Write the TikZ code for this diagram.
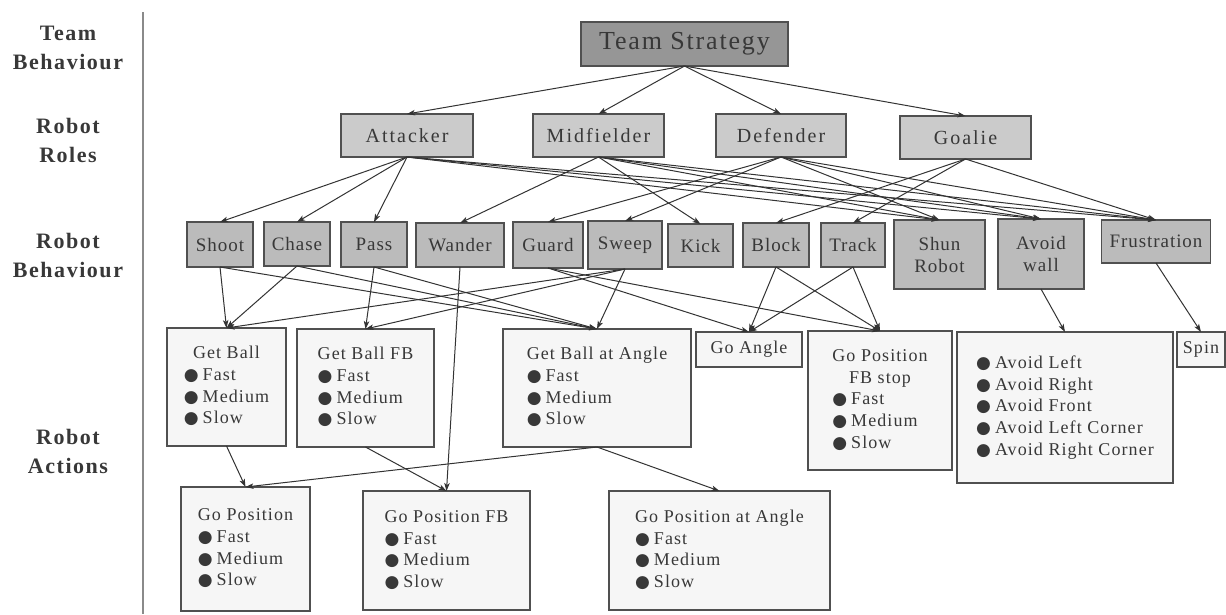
\documentclass[tikz,border=0pt]{standalone}
\usepackage{fontspec}
\setmainfont{Liberation Serif}
\newfontfamily\topfont[LetterSpace=7]{Liberation Serif}
\newfontfamily\rolefont[LetterSpace=10]{Liberation Serif}
\newfontfamily\behfont[LetterSpace=5]{Liberation Serif}
\newfontfamily\actfont[LetterSpace=6]{Liberation Serif}
\newfontfamily\tierfont[LetterSpace=7]{Liberation Serif}
\newfontfamily\dotfont{DejaVu Sans}
\usetikzlibrary{arrows.meta}

\definecolor{inkcol}{HTML}{383838}
\definecolor{framecol}{HTML}{505050}
\definecolor{wirecol}{HTML}{333333}
\definecolor{topfill}{HTML}{969696}
\definecolor{rolefill}{HTML}{CBCBCB}
\definecolor{behfill}{HTML}{BBBBBB}
\definecolor{actfill}{HTML}{F6F6F6}
\definecolor{tiercol}{HTML}{8A8A8A}

% list helpers for the action boxes
\newcommand\itm{{\dotfont\fontsize{17}{17}\selectfont ●}\hspace{4pt}}
\newcommand\ttl[1]{\multicolumn{1}{@{}c@{}}{#1}}

\tikzset{
  boxbase/.style={draw=framecol, line width=1.3pt, inner sep=0pt, outer sep=0pt, text=inkcol},
  topbox/.style={boxbase, fill=topfill, font=\topfont\fontsize{26}{29}\selectfont},
  rolebox/.style={boxbase, fill=rolefill, font=\rolefont\fontsize{20}{24}\selectfont},
  behbox/.style={boxbase, fill=behfill, align=center, font=\behfont\fontsize{19}{22}\selectfont},
  actbox/.style={boxbase, fill=actfill, font=\actfont\fontsize{18}{21.7}\selectfont},
  tierlabel/.style={inner sep=0pt, align=center, text=inkcol, font=\tierfont\bfseries\fontsize{22}{29}\selectfont},
  tierline/.style={draw=tiercol, line width=1.5pt},
  wire/.style={draw=wirecol, line width=1pt, -{Stealth[length=8pt, width=5.5pt, inset=2pt]}}
}

\begin{document}
\begin{tikzpicture}[x=1pt, y=-1pt]
\useasboundingbox (0,0) rectangle (1226,614);

% tier captions and divider
\node[tierlabel] (tierTeam) at (68,48)  {Team\\Behaviour};
\node[tierlabel] (tierRole) at (68,140) {Robot\\Roles};
\node[tierlabel] (tierBeh)  at (68,255) {Robot\\Behaviour};
\node[tierlabel] (tierAct)  at (68,451) {Robot\\Actions};
\coordinate (divTop) at (143,12);
\coordinate (divBot) at (143,614);
\draw[tierline] (divTop) -- (divBot);

% team level
\node[topbox, minimum width=207pt, minimum height=44pt] (ts) at (684.5,44) {Team Strategy};

% roles
\node[rolebox, minimum width=132pt, minimum height=43pt] (att) at (407,135.5)   {Attacker};
\node[rolebox, minimum width=131pt, minimum height=43pt] (mid) at (598.5,135.5) {Midfielder};
\node[rolebox, minimum width=130pt, minimum height=43pt] (def) at (781,135.5)   {Defender};
\node[rolebox, minimum width=131pt, minimum height=43pt] (goa) at (965.5,137.5) {Goalie};

% behaviours
\node[behbox, minimum width=66pt, minimum height=45pt]  (shoot)  at (220,244.5)  {Shoot};
\node[behbox, minimum width=66pt, minimum height=44pt]  (chase)  at (297,244)    {Chase};
\node[behbox, minimum width=66pt, minimum height=45pt]  (pass)   at (374,244.5)  {Pass};
\node[behbox, minimum width=88pt, minimum height=44pt]  (wander) at (460,245)    {Wander};
\node[behbox, minimum width=70pt, minimum height=46pt]  (guard)  at (548,245)    {Guard};
\node[behbox, minimum width=74pt, minimum height=48pt]  (sweep)  at (625,245)    {Sweep};
\node[behbox, minimum width=65pt, minimum height=43pt]  (kick)   at (700.5,245.5){Kick};
\node[behbox, minimum width=66pt, minimum height=44pt]  (block)  at (776,245)    {Block};
\node[behbox, minimum width=64pt, minimum height=44pt]  (track)  at (853,245)    {Track};
\node[behbox, minimum width=91pt, minimum height=69pt]  (shun)   at (939.5,254.5){Shun\\Robot};
\node[behbox, minimum width=86pt, minimum height=70pt]  (avoidw) at (1041,254)   {Avoid\\wall};
\node[behbox, minimum width=109pt, minimum height=43pt] (frus)   at (1156,241.5) {Frustration};

% actions, first row
\node[actbox, minimum width=119pt, minimum height=118pt] (gb) at (226.5,387)
  {\begin{tabular}{@{}l@{}}\ttl{Get Ball}\\ \itm Fast\\ \itm Medium\\ \itm Slow\end{tabular}};
\node[actbox, minimum width=137pt, minimum height=118pt] (gbfb) at (365.5,388)
  {\begin{tabular}{@{}l@{}}\ttl{Get Ball FB}\\ \itm Fast\\ \itm Medium\\ \itm Slow\end{tabular}};
\node[actbox, minimum width=188pt, minimum height=118pt] (gba) at (597,388)
  {\begin{tabular}{@{}l@{}}\ttl{Get Ball at Angle}\\ \itm Fast\\ \itm Medium\\ \itm Slow\end{tabular}};
\node[actbox, minimum width=106pt, minimum height=35pt] (goang) at (749,349.5) {Go Angle};
\node[actbox, minimum width=144pt, minimum height=139pt] (gpfbs) at (880,400.5)
  {\begin{tabular}{@{}l@{}}\ttl{Go Position}\\ \ttl{FB stop}\\ \itm Fast\\ \itm Medium\\ \itm Slow\end{tabular}};
\node[actbox, minimum width=216pt, minimum height=151pt] (avoid) at (1065,407.5)
  {\begin{tabular}{@{}l@{}}\itm Avoid Left\\ \itm Avoid Right\\ \itm Avoid Front\\ \itm Avoid Left Corner\\ \itm Avoid Right Corner\end{tabular}};
\node[actbox, minimum width=48pt, minimum height=35pt] (spin) at (1201,349.5) {Spin};

% actions, second row
\node[actbox, minimum width=129pt, minimum height=124pt] (gp) at (245.5,549)
  {\begin{tabular}{@{}l@{}}\ttl{Go Position}\\ \itm Fast\\ \itm Medium\\ \itm Slow\end{tabular}};
\node[actbox, minimum width=167pt, minimum height=119pt] (gpfb) at (446.5,550.5)
  {\begin{tabular}{@{}l@{}}\ttl{Go Position FB}\\ \itm Fast\\ \itm Medium\\ \itm Slow\end{tabular}};
\node[actbox, minimum width=221pt, minimum height=119pt] (gpa) at (719.5,550.5)
  {\begin{tabular}{@{}l@{}}\ttl{Go Position at Angle}\\ \itm Fast\\ \itm Medium\\ \itm Slow\end{tabular}};

% team strategy to roles
\foreach \r in {att,mid,def,goa} \draw[wire] (ts.south) -- (\r.north);

% roles to behaviours
\foreach \b in {shoot,chase,pass,shun,avoidw,frus} \draw[wire] (att.south) -- (\b.north);
\foreach \b in {wander,kick,shun,avoidw,frus} \draw[wire] (mid.south) -- (\b.north);
\foreach \b in {guard,sweep,shun,avoidw,frus} \draw[wire] (def.south) -- (\b.north);
\foreach \b in {block,track,frus} \draw[wire] (goa.south) -- (\b.north);

% behaviours to actions
\foreach \a in {gb,gba} \draw[wire] (shoot.south) -- (\a.north);
\foreach \a in {gb,gba} \draw[wire] (chase.south) -- (\a.north);
\foreach \a in {gbfb,gba} \draw[wire] (pass.south) -- (\a.north);
\draw[wire] (wander.south) -- (gpfb.north);
\foreach \a in {goang,gpfbs} \draw[wire] (guard.south) -- (\a.north);
\foreach \a in {gb,gbfb,gba} \draw[wire] (sweep.south) -- (\a.north);
\foreach \a in {goang,gpfbs} \draw[wire] (block.south) -- (\a.north);
\foreach \a in {goang,gpfbs} \draw[wire] (track.south) -- (\a.north);
\draw[wire] (avoidw.south) -- (avoid.north);
\draw[wire] (frus.south) -- (spin.north);

% actions to lower-level actions
\draw[wire] (gb.south) -- (gp.north);
\draw[wire] (gbfb.south) -- (gpfb.north);
\foreach \a in {gp,gpa} \draw[wire] (gba.south) -- (\a.north);
\end{tikzpicture}
\end{document}
